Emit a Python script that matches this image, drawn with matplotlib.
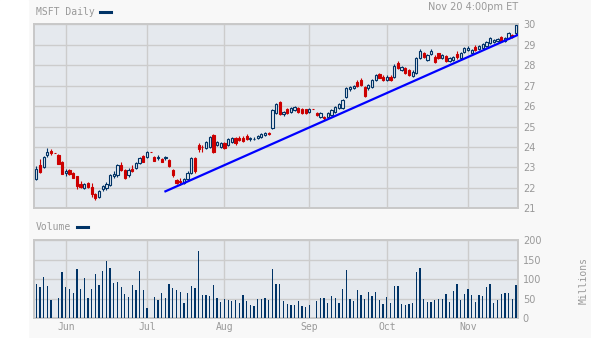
import numpy as np
import pandas as pd
import matplotlib
matplotlib.use('Agg')
import matplotlib.pyplot as plt
from matplotlib.patches import Rectangle
from matplotlib.lines import Line2D

# one slot per weekday; market holidays are flat bars with no volume
dates = pd.bdate_range('2006-05-22', '2006-11-20')

opens = [22.45, 23.12, 23.00, 23.62, 23.80, 23.72, 23.62, 23.28, 22.72, 22.87,
         22.73, 22.57, 22.20, 22.00, 22.23, 22.03, 21.70, 21.53, 21.95, 22.00,
         22.12, 22.57, 22.62, 23.12, 22.87, 22.62, 22.92, 22.95, 23.23, 23.57,
         23.53, 23.73, 23.50, 23.45, 23.42, 23.45, 23.37, 22.87, 22.37, 22.33,
         22.23, 22.45, 22.75, 23.45, 24.09, 24.02, 23.93, 24.00, 24.58, 24.10,
         24.00, 24.17, 24.10, 24.25, 24.45, 24.45, 24.45, 24.53, 24.37, 24.37,
         24.45, 24.50, 24.58, 24.68, 24.95, 25.64, 26.21, 25.59, 25.84, 25.72,
         25.80, 25.89, 25.84, 25.84, 25.72, 25.84, 25.67, 25.48, 25.48, 25.48,
         25.56, 25.72, 25.93, 25.93, 26.42, 26.82, 26.90, 27.20, 27.27, 26.95,
         26.87, 26.95, 27.27, 27.55, 27.44, 27.28, 27.44, 27.40, 28.09, 27.77,
         27.85, 27.77, 27.49, 27.60, 28.34, 28.58, 28.26, 28.53, 28.42, 28.58,
         28.33, 28.46, 28.20, 28.25, 28.57, 28.36, 28.66, 28.74, 28.58, 28.90,
         28.79, 28.85, 28.95, 29.07, 29.15, 29.18, 29.39, 29.18, 29.31, 29.47,
         29.56]
highs = [23.05, 23.40, 23.55, 23.95, 23.90, 23.72, 23.66, 23.32, 22.90, 22.92,
         22.76, 22.60, 22.33, 22.23, 22.28, 22.23, 21.75, 21.90, 22.15, 22.30,
         22.70, 22.80, 23.15, 23.25, 22.92, 22.95, 23.10, 23.25, 23.50, 23.62,
         23.80, 23.73, 23.55, 23.60, 23.48, 23.55, 23.40, 22.92, 22.42, 22.50,
         22.50, 22.80, 23.50, 23.50, 24.20, 24.10, 24.28, 24.55, 24.62, 24.30,
         24.25, 24.22, 24.45, 24.50, 24.50, 24.52, 24.55, 24.62, 24.50, 24.48,
         24.60, 24.66, 24.74, 24.72, 25.85, 26.15, 26.25, 25.78, 25.90, 25.95,
         26.02, 25.95, 25.90, 25.88, 25.90, 25.84, 25.72, 25.72, 25.52, 25.72,
         25.85, 26.02, 26.15, 26.35, 26.95, 27.00, 27.05, 27.28, 27.35, 27.00,
         27.08, 27.32, 27.58, 27.62, 27.50, 27.50, 27.50, 28.05, 28.20, 27.98,
         27.90, 27.82, 27.75, 28.40, 28.80, 28.65, 28.55, 28.78, 28.48, 28.62,
         28.55, 28.52, 28.42, 28.47, 28.70, 28.65, 28.90, 28.92, 28.80, 28.98,
         28.98, 29.08, 29.16, 29.36, 29.28, 29.33, 29.45, 29.36, 29.62, 29.52,
         30.05]
lows = [22.40, 22.72, 22.95, 23.53, 23.62, 23.72, 23.15, 22.68, 22.58, 22.65,
        22.48, 21.95, 22.00, 21.93, 22.00, 21.53, 21.40, 21.50, 21.85, 21.90,
        22.08, 22.50, 22.55, 22.83, 22.45, 22.55, 22.78, 22.90, 23.18, 23.25,
        23.48, 23.73, 23.30, 23.38, 23.25, 23.35, 23.02, 22.55, 22.20, 22.15,
        22.18, 22.40, 22.70, 22.75, 23.76, 23.73, 23.88, 23.95, 23.72, 24.05,
        23.95, 23.88, 24.05, 24.20, 24.12, 24.28, 24.22, 24.36, 24.30, 24.32,
        24.40, 24.45, 24.53, 24.60, 24.90, 25.60, 25.55, 25.52, 25.62, 25.68,
        25.75, 25.68, 25.62, 25.62, 25.68, 25.84, 25.50, 25.42, 25.30, 25.42,
        25.50, 25.68, 25.88, 25.88, 26.38, 26.75, 26.85, 26.92, 26.98, 26.45,
        26.80, 26.90, 27.22, 27.35, 27.22, 27.22, 27.22, 27.35, 27.82, 27.70,
        27.55, 27.45, 27.40, 27.55, 28.30, 28.35, 28.20, 28.48, 28.10, 28.28,
        28.28, 28.15, 28.15, 28.20, 28.30, 28.30, 28.60, 28.70, 28.52, 28.68,
        28.74, 28.80, 28.90, 29.02, 29.10, 29.13, 29.12, 29.13, 29.26, 29.34,
        29.50]
closes = [22.90, 22.78, 23.53, 23.75, 23.72, 23.72, 23.17, 22.70, 22.83, 22.67,
          22.50, 22.07, 22.03, 22.17, 22.03, 21.70, 21.50, 21.87, 22.07, 22.20,
          22.62, 22.70, 23.12, 22.87, 22.48, 22.87, 22.83, 23.20, 23.45, 23.28,
          23.73, 23.73, 23.32, 23.53, 23.28, 23.50, 23.07, 22.62, 22.23, 22.28,
          22.45, 22.75, 23.45, 22.80, 23.89, 23.98, 24.25, 24.50, 23.76, 24.25,
          24.20, 23.93, 24.41, 24.45, 24.17, 24.33, 24.28, 24.41, 24.45, 24.41,
          24.55, 24.61, 24.69, 24.64, 25.80, 26.08, 25.59, 25.72, 25.67, 25.89,
          25.97, 25.72, 25.67, 25.67, 25.84, 25.84, 25.56, 25.67, 25.40, 25.67,
          25.80, 25.97, 26.10, 26.29, 26.88, 26.95, 27.00, 27.00, 27.03, 26.50,
          27.03, 27.27, 27.52, 27.39, 27.28, 27.44, 27.28, 27.98, 27.88, 27.93,
          27.60, 27.52, 27.69, 28.34, 28.70, 28.42, 28.50, 28.70, 28.17, 28.34,
          28.49, 28.20, 28.36, 28.41, 28.41, 28.60, 28.85, 28.85, 28.74, 28.74,
          28.93, 29.02, 29.11, 29.31, 29.23, 29.28, 29.18, 29.31, 29.56, 29.39,
          29.96]
# millions of shares
volume = [88, 80, 106, 83, 47, 0, 52, 119, 80, 75,
          65, 126, 75, 103, 52, 75, 114, 85, 121, 147,
          129, 91, 93, 80, 62, 55, 85, 73, 121, 73,
          26, 0, 55, 47, 65, 52, 88, 78, 73, 68,
          39, 65, 83, 78, 173, 60, 60, 57, 85, 52,
          42, 50, 47, 44, 47, 39, 60, 44, 34, 32,
          50, 50, 52, 47, 126, 88, 88, 44, 37, 34,
          34, 44, 32, 29, 34, 0, 44, 52, 52, 39,
          57, 52, 39, 75, 124, 50, 44, 73, 60, 50,
          68, 57, 68, 47, 37, 55, 39, 83, 83, 37,
          34, 37, 39, 119, 129, 50, 42, 42, 47, 50,
          50, 62, 42, 70, 88, 47, 62, 75, 60, 42,
          60, 57, 80, 88, 39, 47, 62, 65, 65, 50,
          85]

# support line drawn under the lows (slot index, price)
trend_x = [35, 130.6]
trend_y = [21.83, 29.49]

navy = '#003366'
red = '#cc0000'
plot_bg = '#e5e9ee'
grid_c = '#cccccc'
text_c = '#999999'
W, H = 591, 338

fig = plt.figure(figsize=(W / 100, H / 100), dpi=100, facecolor='#f8f8f8')
fig.patches.append(Rectangle((0, 0), 28 / W, 1, transform=fig.transFigure,
                             color='white', zorder=0))

def fx(px):
    return px / W

def fy(py):
    return 1 - py / H

ax = fig.add_axes([fx(34), fy(208.3), fx(518) - fx(34), fy(24.3) - fy(208.3)])
axv = fig.add_axes([fx(34), fy(318.3), fx(518) - fx(34), fy(240.3) - fy(318.3)])

x = np.arange(len(dates))
o = np.array(opens)
h = np.array(highs)
l = np.array(lows)
c = np.array(closes)
up = c > o
dn = ~up

month_pos = [i for i in range(1, len(dates)) if dates[i].month != dates[i - 1].month]
month_lab = [dates[i].strftime('%b') for i in month_pos]

# price candles
ax.vlines(x, l, h, colors=np.where(up, navy, red), lw=0.8, zorder=2)
ax.bar(x[up], c[up] - o[up], bottom=o[up], width=0.6, facecolor=plot_bg,
       edgecolor=navy, lw=0.8, zorder=3)
ax.bar(x[dn], o[dn] - c[dn], bottom=c[dn], width=0.6, facecolor=red,
       edgecolor=red, lw=0.8, zorder=3)
ax.plot(trend_x, trend_y, color='#0000ff', lw=1.6, zorder=4)

ax.set_ylim(21, 30)
ax.set_yticks(range(21, 31))

# volume
axv.bar(x, volume, width=0.35, color=navy, lw=0, zorder=3)
axv.set_ylim(0, 200)
axv.set_yticks([0, 50, 100, 150, 200])

for a in (ax, axv):
    a.set_facecolor(plot_bg)
    a.set_xlim(-0.62, 130.55)
    a.set_xticks(month_pos)
    a.grid(True, color=grid_c, lw=1.0, zorder=1)
    a.set_axisbelow(True)
    a.yaxis.tick_right()
    a.tick_params(axis='y', length=0, pad=3.5, labelsize=7, labelcolor=text_c)
    a.tick_params(axis='x', length=0)
    for s in a.spines.values():
        s.set_color('#c8c8c8')
        s.set_linewidth(1.4)

ax.set_xticklabels([])
axv.set_xticklabels(month_lab, family='DejaVu Sans Mono', fontsize=7, color=text_c)
axv.tick_params(axis='x', pad=3)

# header texts and legend swatches
fig.text(fx(35.5), fy(11.7), 'MSFT Daily', family='DejaVu Sans Mono', fontsize=7,
         color=text_c, va='center', ha='left')
fig.add_artist(Line2D([fx(100), fx(111)], [fy(11.5), fy(11.5)], color=navy, lw=2.2))
fig.text(fx(518), fy(6.5), 'Nov 20 4:00pm ET', fontsize=7, color=text_c,
         va='center', ha='right')
fig.text(fx(35.5), fy(227.3), 'Volume', family='DejaVu Sans Mono', fontsize=7,
         color=text_c, va='center', ha='left')
fig.add_artist(Line2D([fx(77), fx(88)], [fy(227.3), fy(227.3)], color=navy, lw=2.2))
fig.text(fx(584), fy(281), 'Millions', family='DejaVu Sans Mono', fontsize=7,
         color=text_c, va='center', ha='center', rotation=90)

plt.savefig('out.png', dpi=100, facecolor=fig.get_facecolor())
